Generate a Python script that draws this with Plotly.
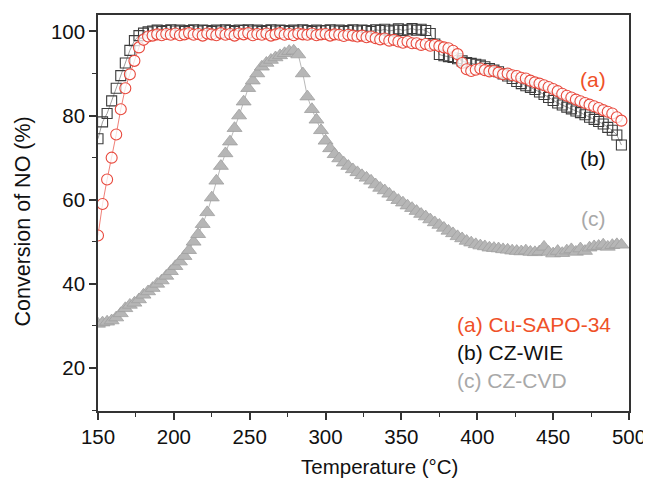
import plotly.graph_objects as go

temperature = [150, 153, 156, 159, 162, 165, 168, 171, 174, 177, 180, 183, 186, 189, 192, 195, 198,
               201, 204, 207, 210, 213, 216, 219, 222, 225, 228, 231, 234, 237, 240, 243, 246, 249,
               252, 255, 258, 261, 264, 267, 270, 273, 276, 279, 282, 285, 288, 291, 294, 297, 300,
               303, 306, 309, 312, 315, 318, 321, 324, 327, 330, 333, 336, 339, 342, 345, 348, 351,
               354, 357, 360, 363, 366, 369, 372, 375, 378, 381, 384, 387, 390, 393, 396, 399, 402,
               405, 408, 411, 414, 417, 420, 423, 426, 429, 432, 435, 438, 441, 444, 447, 450, 453,
               456, 459, 462, 465, 468, 471, 474, 477, 480, 483, 486, 489, 492, 495]

cu_sapo34 = [51.5, 59.0, 64.8, 70.0, 75.5, 81.5, 86.5, 89.8, 93.0, 96.2, 98.0, 98.8, 99.0, 99.3, 99.1,
             99.4, 99.2, 99.5, 99.1, 99.3, 99.6, 99.2, 99.4, 99.0, 99.5, 99.3, 99.1, 99.6, 99.2, 99.4,
             99.0, 99.5, 99.3, 99.6, 99.1, 99.4, 99.2, 99.5, 99.0, 99.3, 99.6, 99.2, 99.4, 99.1, 99.5,
             99.3, 99.2, 99.5, 99.1, 99.3, 99.4, 99.0, 99.3, 99.2, 98.9, 99.2, 99.0, 98.8, 99.0, 98.6,
             98.8, 98.4, 98.1, 98.3, 97.8, 98.0, 97.6, 97.3, 97.6, 97.2, 97.2, 96.8, 97.0, 96.6, 96.8,
             96.5, 96.2, 96.0, 95.4, 94.6, 92.5, 91.0, 90.6, 90.9, 91.2, 90.8, 90.5, 90.6, 90.2, 89.8,
             90.0, 89.6, 89.4, 89.0, 88.8, 88.3, 87.9, 87.6, 87.2, 86.8, 86.3, 85.8, 85.2, 84.7, 84.3,
             83.8, 83.4, 83.0, 82.6, 82.2, 81.8, 81.3, 80.9, 80.5, 79.6, 78.8]

cz_wie = [74.5, 78.5, 80.5, 83.5, 86.5, 89.5, 92.5, 95.5, 97.8, 99.0, 99.6, 99.9, 100.1, 100.3, 100.0,
          100.2, 100.4, 100.1, 100.3, 100.0, 100.2, 100.4, 100.1, 100.3, 100.2, 100.0, 100.3, 100.1,
          100.4, 100.2, 100.0, 100.3, 100.2, 100.4, 100.1, 100.3, 100.0, 100.2, 100.4, 100.1, 100.3,
          100.2, 100.0, 100.3, 100.1, 100.4, 100.2, 100.0, 100.3, 100.1, 100.2, 100.4, 100.1, 100.3,
          100.0, 100.2, 100.4, 100.1, 100.3, 100.2, 100.0, 100.4, 100.2, 100.5, 100.1, 100.3, 100.6,
          100.2, 100.4, 100.7, 100.3, 100.5, 100.2, 99.5, 97.0, 94.5, 94.2, 94.0, 93.8, 93.5, 93.0,
          92.6, 92.4, 92.2, 92.0, 91.6, 91.2, 90.8, 90.4, 89.9, 89.4, 88.8, 88.1, 87.6, 87.1, 86.7,
          86.2, 85.6, 85.0, 84.3, 83.6, 83.0, 82.5, 82.0, 81.6, 81.1, 80.7, 80.2, 79.6, 79.1, 78.6,
          78.0, 77.2, 76.5, 75.4, 73.0]

cz_cvd = [30.5, 30.8, 31.0, 31.3, 32.0, 33.0, 34.2, 35.0, 35.5, 36.3, 37.4, 38.2, 39.0, 40.0, 40.8,
          41.9, 43.0, 44.2, 45.3, 46.6, 48.0, 50.0, 51.8, 54.2, 57.0, 60.5, 64.5, 68.0, 71.0, 73.8,
          77.0, 80.0, 83.3, 86.5, 88.3, 90.0, 91.6, 92.5, 93.2, 93.8, 94.3, 94.8, 95.3, 95.4, 94.5,
          90.0, 84.5, 81.5, 79.0, 76.5, 74.0, 72.2, 70.8, 69.8, 68.8, 68.0, 67.2, 66.5, 65.8, 65.2,
          64.5, 63.6, 62.8, 62.2, 61.4, 60.6, 59.9, 59.3, 58.6, 58.0, 57.3, 56.6, 56.0, 55.3, 54.6,
          54.0, 53.3, 52.6, 52.0, 51.3, 50.8, 50.2, 49.8, 49.4, 49.1, 48.9, 48.6, 48.5, 48.4, 48.2,
          48.1, 47.9, 47.8, 47.7, 47.9, 47.6, 47.5, 47.7, 48.8, 47.6, 47.2, 47.8, 47.3, 47.9, 48.2,
          47.6, 48.4, 47.8, 48.6, 48.9, 49.0, 49.3, 48.8, 49.2, 49.4, 49.3]

legend_labels = ["(a) Cu-SAPO-34", "(b) CZ-WIE", "(c) CZ-CVD"]
curve_labels = ["(a)", "(b)", "(c)"]
x_ticks = [150, 200, 250, 300, 350, 400, 450, 500]
y_ticks = [20, 40, 60, 80, 100]

RED = "#e8493d"
RED_TXT = "#ef5128"
BLACK = "#3c3c3c"
GRAY = "#a8a8a8"
FONT = "Arial, Liberation Sans, Helvetica, sans-serif"

fig = go.Figure()

fig.add_trace(go.Scatter(
    x=temperature, y=cz_wie, mode="lines+markers", name=legend_labels[1],
    line=dict(color="#777777", width=0.7),
    marker=dict(symbol="square-open", size=10, color=BLACK, line=dict(width=1.1, color=BLACK)),
))
fig.add_trace(go.Scatter(
    x=temperature, y=cu_sapo34, mode="lines+markers", name=legend_labels[0],
    line=dict(color=RED, width=0.7),
    marker=dict(symbol="circle", size=11, color="rgba(255,255,255,0.75)",
                line=dict(width=1.1, color=RED)),
))
fig.add_trace(go.Scatter(
    x=temperature, y=cz_cvd, mode="lines+markers", name=legend_labels[2],
    line=dict(color="#9a9a9a", width=0.7),
    marker=dict(symbol="triangle-up", size=13, color="#b6b6b6",
                line=dict(width=0.8, color="#a0a0a0")),
))

axis_common = dict(
    showline=True, linecolor="#333333", linewidth=1.5, mirror=True,
    ticks="outside", ticklen=7, tickwidth=1.5, tickcolor="#333333",
    showgrid=False, zeroline=False,
    tickfont=dict(family=FONT, size=20.5, color="#111111"),
)

fig.update_xaxes(range=[150, 500], tickvals=x_ticks,
                 minor=dict(ticks="outside", ticklen=4, tickwidth=1.2, tickcolor="#333333", dtick=25,
                            tick0=150),
                 **axis_common)
fig.update_yaxes(range=[9.8, 103.9], tickvals=y_ticks,
                 minor=dict(ticks="outside", ticklen=4, tickwidth=1.2, tickcolor="#333333", dtick=10,
                            tick0=0),
                 **axis_common)

# page offset: the browser's default body margin is 8 px
OFF = 8
PL, PR, PT, PB = 98, 633, 13, 411  # plot-area edges in page pixels

annotations = [
    dict(text="Temperature (°C)", x=382, y=467, font=dict(size=20.5, color="#111111")),
    dict(text="Conversion of NO (%)", x=22, y=221, textangle=-90, font=dict(size=21.5, color="#111111")),
    dict(text=legend_labels[0], x=458, y=324, xanchor="left", font=dict(size=21, color=RED_TXT)),
    dict(text=legend_labels[1], x=458, y=352, xanchor="left", font=dict(size=21, color="#111111")),
    dict(text=legend_labels[2], x=458, y=380, xanchor="left", font=dict(size=21, color=GRAY)),
    dict(text=curve_labels[0], x=597, y=78, font=dict(size=21, color=RED_TXT)),
    dict(text=curve_labels[1], x=597, y=157, font=dict(size=21, color="#111111")),
    dict(text=curve_labels[2], x=597, y=218, font=dict(size=21, color=GRAY)),
]
for a in annotations:
    a["xref"] = "paper"
    a["yref"] = "paper"
    a["x"] = (a["x"] - PL) / (PR - PL)
    a["y"] = (PB - a["y"]) / (PB - PT)
    a.setdefault("xanchor", "center")
    a["yanchor"] = "middle"
    a["showarrow"] = False
    a["font"]["family"] = FONT

W, H = 651 - OFF, 479 - OFF
fig.update_layout(
    width=W, height=H,
    margin=dict(l=PL - OFF, r=651 - PR, t=PT - OFF, b=479 - PB),
    paper_bgcolor="white", plot_bgcolor="white",
    showlegend=False,
    annotations=annotations,
    font=dict(family=FONT),
)

fig.write_html("out.html")
